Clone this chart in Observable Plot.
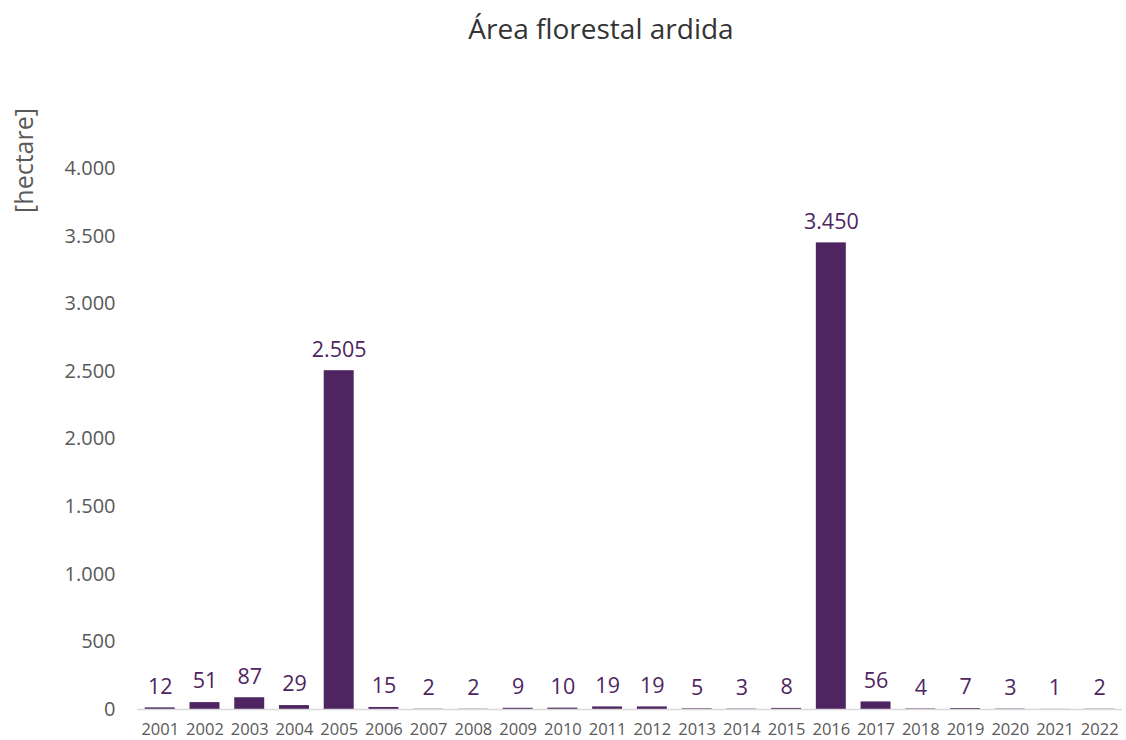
<!DOCTYPE html>
<html>
<head>
<meta charset="utf-8">
<script src="https://cdn.jsdelivr.net/npm/d3@7"></script>
<script src="https://cdn.jsdelivr.net/npm/@observablehq/plot@0.6"></script>
<style>
  html, body { margin: 0; padding: 0; background: #fff; }
  #wrap { width: 1126px; height: 740px; position: relative; font-family: "Open Sans", sans-serif; }
  #title { position: absolute; left: 0; width: 1202px; top: 9px; text-align: center; font-size: 28px; color: #333; }
  #chart { position: absolute; left: 0; top: 60px; }
</style>
</head>
<body>
<div id="wrap">
  <div id="title">Área florestal ardida</div>
  <div id="chart"></div>
</div>
<script>
const years = ["2001","2002","2003","2004","2005","2006","2007","2008","2009","2010","2011","2012","2013","2014","2015","2016","2017","2018","2019","2020","2021","2022"];
const hectares = [12, 51, 87, 29, 2505, 15, 2, 2, 9, 10, 19, 19, 5, 3, 8, 3450, 56, 4, 7, 3, 1, 2];
const yTicks = [0, 500, 1000, 1500, 2000, 2500, 3000, 3500, 4000];
const yLabel = "[hectare]";

const data = years.map((y, i) => ({year: y, value: hectares[i]}));
const locale = d3.formatLocale({decimal: ",", thousands: ".", grouping: [3], currency: ["", "€"]});
const fmt = locale.format(",d");

const barColor = "#4e2561";
const textGray = "#595959";

const chart = Plot.plot({
  width: 1126,
  height: 680,
  marginTop: 108,
  marginBottom: 31,
  marginLeft: 137,
  marginRight: 4,
  style: {fontFamily: "Open Sans, sans-serif", background: "transparent", overflow: "visible"},
  x: {domain: years, padding: 0.33, round: false, insetLeft: -7, insetRight: -7, label: null},
  y: {domain: [0, 4000], label: null},
  marks: [
    Plot.barY(data, {x: "year", y: "value", fill: barColor}),
    Plot.ruleY([0], {stroke: "#d9d9d9", strokeWidth: 1.5}),
    Plot.text(data, {x: "year", y: "value", text: d => fmt(d.value), dy: -21, fill: barColor, fontSize: 21.5, lineAnchor: "middle"}),
    Plot.axisX({tickSize: 0, tickPadding: 14, fontSize: 16.5, color: textGray}),
    Plot.axisY({ticks: yTicks, tickFormat: fmt, tickSize: 0, tickPadding: 22, fontSize: 20, color: textGray}),
    Plot.text([yLabel], {frameAnchor: "top-left", dx: -113, dy: -8, rotate: -90, fontSize: 25, fill: textGray, text: d => d, textAnchor: "middle", lineAnchor: "middle"})
  ]
});
document.getElementById("chart").appendChild(chart);
</script>
</body>
</html>
